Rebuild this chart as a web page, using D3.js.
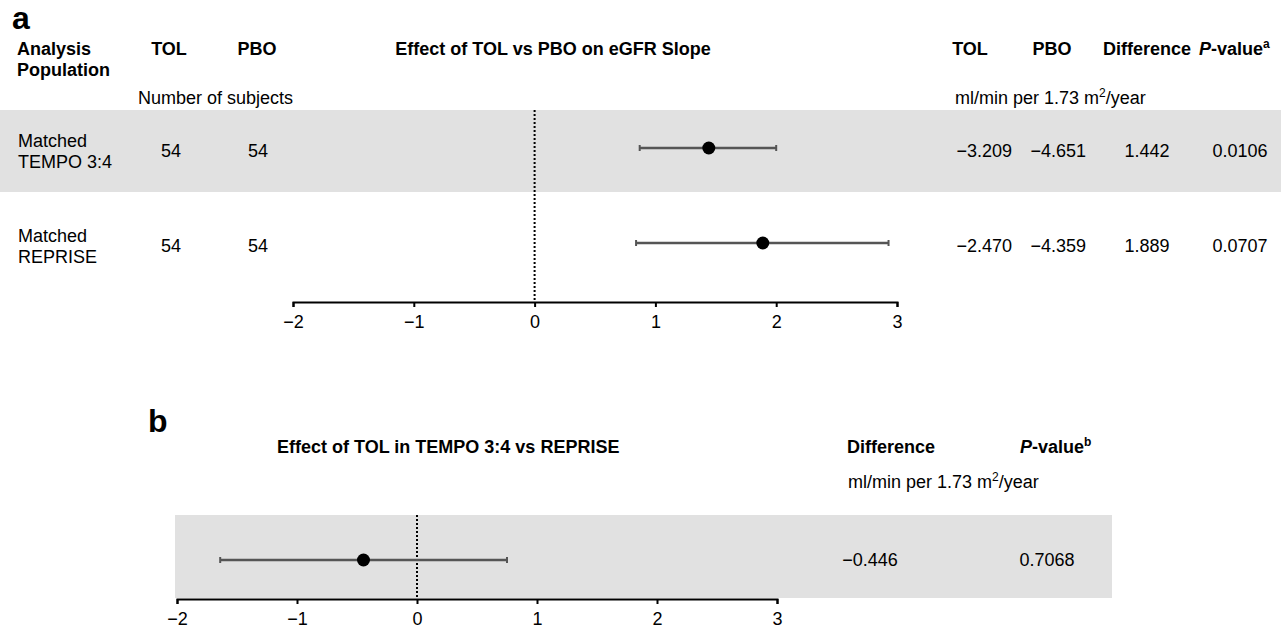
<!DOCTYPE html>
<html>
<head>
<meta charset="utf-8">
<script src="https://cdn.jsdelivr.net/npm/d3@7"></script>
<style>
  body { margin: 0; background: #fff; }
  svg { font-family: "Liberation Sans", Arial, sans-serif; }
  .axis path, .axis line { stroke: #000; stroke-width: 2; }
  .axis text { font-size: 18px; fill: #000; }
</style>
</head>
<body>
<div id="chart"></div>
<script>
// panel a data
var populations = [["Matched", "TEMPO 3:4"], ["Matched", "REPRISE"]];
var nTOL = [54, 54];
var nPBO = [54, 54];
var estimate = [1.442, 1.889];
var lower = [0.87, 0.84];
var upper = [2.00, 2.93];
var slopeTOL = [-3.209, -2.470];
var slopePBO = [-4.651, -4.359];
var pValues = ["0.0106", "0.0707"];

// panel b data
var bEstimate = [-0.446];
var bLower = [-1.64];
var bUpper = [0.75];
var bPValues = ["0.7068"];

var tickValues = [-2, -1, 0, 1, 2, 3];

var width = 1281, height = 630;
var fmt = d3.format(".3f");

var svg = d3.select("#chart").append("svg")
  .attr("width", width)
  .attr("height", height);

function txt(x, y, s, opts) {
  opts = opts || {};
  return svg.append("text")
    .attr("x", x).attr("y", y)
    .attr("font-size", opts.size || 18)
    .attr("font-weight", opts.bold ? "bold" : "normal")
    .attr("text-anchor", opts.anchor || "start")
    .attr("fill", "#000")
    .text(s);
}

function pHeader(x, y, sup) {
  var t = svg.append("text").attr("x", x).attr("y", y)
    .attr("font-size", 18).attr("font-weight", "bold");
  t.append("tspan").attr("font-style", "italic").text("P");
  t.append("tspan").text("-value");
  t.append("tspan").attr("font-size", 12).attr("dy", -7).text(sup);
}

function units(x, y) {
  var t = svg.append("text").attr("x", x).attr("y", y).attr("font-size", 18);
  t.append("tspan").text("ml/min per 1.73 m");
  t.append("tspan").attr("font-size", 12).attr("dy", -7).text("2");
  t.append("tspan").attr("dy", 7).text("/year");
}

// ---------- panel a ----------
var rowH = 82;
var xA = d3.scaleLinear().domain([-2, 3]).range([293, 897]);
var axisYA = 302;

txt(12, 29, "a", {size: 32, bold: true});
txt(17, 55, "Analysis", {bold: true});
txt(17, 76, "Population", {bold: true});
txt(169, 55, "TOL", {bold: true, anchor: "middle"});
txt(257, 55, "PBO", {bold: true, anchor: "middle"});
txt(553, 55, "Effect of TOL vs PBO on eGFR Slope", {bold: true, anchor: "middle"});
txt(970, 55, "TOL", {bold: true, anchor: "middle"});
txt(1052, 55, "PBO", {bold: true, anchor: "middle"});
txt(1103, 55, "Difference", {bold: true});
pHeader(1199, 55, "a");
txt(138, 104, "Number of subjects");
units(955, 104);

// shaded first row
svg.append("rect")
  .attr("x", 0).attr("y", 110)
  .attr("width", width).attr("height", rowH)
  .attr("fill", "#e1e1e1");

var rowY = [148, 243];

populations.forEach(function(p, i) {
  txt(18, rowY[i] - 1, p[0]);
  txt(18, rowY[i] + 20, p[1]);
  txt(171, rowY[i] + 9, nTOL[i], {anchor: "middle"});
  txt(258, rowY[i] + 9, nPBO[i], {anchor: "middle"});
  txt(1012, rowY[i] + 9, fmt(slopeTOL[i]), {anchor: "end"});
  txt(1086, rowY[i] + 9, fmt(slopePBO[i]), {anchor: "end"});
  txt(1147, rowY[i] + 9, fmt(estimate[i]), {anchor: "middle"});
  txt(1240, rowY[i] + 9, pValues[i], {anchor: "middle"});
});

// zero reference
svg.append("line")
  .attr("x1", xA(0)).attr("x2", xA(0))
  .attr("y1", 110).attr("y2", axisYA)
  .attr("stroke", "#000").attr("stroke-width", 2)
  .attr("stroke-dasharray", "2,2");

function drawCI(x, est, lo, hi, ys) {
  var g = svg.append("g");
  g.selectAll(".ci").data(est).enter().append("line")
    .attr("x1", function(d, i) { return x(lo[i]); })
    .attr("x2", function(d, i) { return x(hi[i]); })
    .attr("y1", function(d, i) { return ys[i]; })
    .attr("y2", function(d, i) { return ys[i]; })
    .attr("stroke", "#555").attr("stroke-width", 2.5);
  [lo, hi].forEach(function(arr) {
    g.selectAll(null).data(arr).enter().append("line")
      .attr("x1", function(d) { return x(d); })
      .attr("x2", function(d) { return x(d); })
      .attr("y1", function(d, i) { return ys[i] - 3; })
      .attr("y2", function(d, i) { return ys[i] + 3; })
      .attr("stroke", "#555").attr("stroke-width", 2);
  });
  g.selectAll("circle").data(est).enter().append("circle")
    .attr("cx", function(d) { return x(d); })
    .attr("cy", function(d, i) { return ys[i]; })
    .attr("r", 6.5)
    .attr("fill", "#000");
}

drawCI(xA, estimate, lower, upper, rowY);

svg.append("g")
  .attr("class", "axis")
  .attr("transform", "translate(0," + axisYA + ")")
  .call(d3.axisBottom(xA).tickValues(tickValues).tickFormat(d3.format("d"))
    .tickSizeOuter(0).tickSize(5).tickPadding(8));

// ---------- panel b ----------
var xB = d3.scaleLinear().domain([-2, 3]).range([177, 777]);
var axisYB = 599;
var bRowY = [560];

txt(148, 432, "b", {size: 32, bold: true});
txt(277, 453, "Effect of TOL in TEMPO 3:4 vs REPRISE", {bold: true});
txt(847, 453, "Difference", {bold: true});
pHeader(1020, 453, "b");
units(848, 488);

svg.append("rect")
  .attr("x", 175).attr("y", 515)
  .attr("width", 1112 - 175).attr("height", 83)
  .attr("fill", "#e1e1e1");

svg.append("line")
  .attr("x1", xB(0)).attr("x2", xB(0))
  .attr("y1", 515).attr("y2", axisYB)
  .attr("stroke", "#000").attr("stroke-width", 2)
  .attr("stroke-dasharray", "2,2");

drawCI(xB, bEstimate, bLower, bUpper, bRowY);

txt(870, 566, fmt(bEstimate[0]), {anchor: "middle"});
txt(1047, 566, bPValues[0], {anchor: "middle"});

svg.append("g")
  .attr("class", "axis")
  .attr("transform", "translate(0," + axisYB + ")")
  .call(d3.axisBottom(xB).tickValues(tickValues).tickFormat(d3.format("d"))
    .tickSizeOuter(0).tickSize(5).tickPadding(8));
</script>
</body>
</html>
